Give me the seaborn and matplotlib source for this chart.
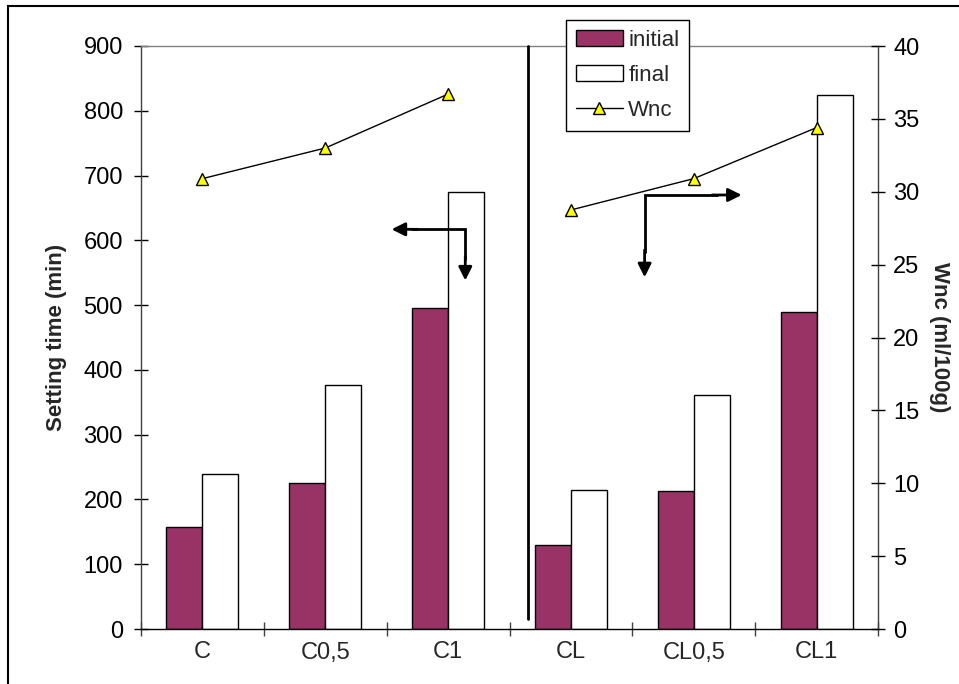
import matplotlib
matplotlib.use("Agg")
import matplotlib.pyplot as plt
from matplotlib.patches import Rectangle, Patch
from matplotlib.lines import Line2D
import numpy as np
import pandas as pd
import seaborn as sns

# Mix labels and measurements
mixes = ["C", "C0,5", "C1", "CL", "CL0,5", "CL1"]
initial_set = [157, 226, 495, 130, 213, 490]   # min
final_set = [240, 376, 674, 215, 362, 825]      # min
wnc = [30.9, 33.0, 36.7, 28.75, 30.9, 34.4]     # ml/100g
series_group = ["C", "C", "C", "CL", "CL", "CL"]

sns.set_theme(style="white")
plt.rcParams["font.family"] = ["Liberation Sans", "DejaVu Sans"]

bars = pd.DataFrame({
    "mix": mixes * 2,
    "time": initial_set + final_set,
    "kind": ["initial"] * len(mixes) + ["final"] * len(mixes),
})
line = pd.DataFrame({"pos": np.arange(len(mixes)), "wnc": wnc, "group": series_group})

fig = plt.figure(figsize=(9.59, 6.84), dpi=100)
ax = fig.add_axes([141 / 959, 1 - 629 / 684, (878 - 141) / 959, (629 - 46) / 684])

plum = "#993366"
sns.barplot(data=bars, x="mix", y="time", hue="kind", order=mixes,
            hue_order=["initial", "final"],
            palette={"initial": plum, "final": "white"},
            width=0.585, edgecolor="black", linewidth=1.0, saturation=1,
            legend=False, ax=ax)

ax.set_xlim(-0.5, len(mixes) - 0.5)
ax.set_ylim(0, 900)
ax.set_yticks(np.arange(0, 901, 100))
ax.set_xlabel("")
ax.set_ylabel("Setting time (min)", fontsize=16, fontweight="bold", labelpad=12)
ax.tick_params(axis="y", direction="inout", length=10, width=1, colors="black",
               labelsize=17, pad=8, left=True)
ax.set_xticks(np.arange(len(mixes)))
ax.set_xticklabels(mixes)
ax.tick_params(axis="x", which="major", length=0, labelsize=17, pad=9)
ax.set_xticks(np.arange(-0.5, len(mixes)), minor=True)
ax.tick_params(axis="x", which="minor", direction="inout", length=10, width=1,
               color="#404040", bottom=True)

for side in ["left", "right"]:
    ax.spines[side].set_color("#404040")
ax.spines["top"].set_color("#808080")
ax.spines["bottom"].set_color("black")
for s in ax.spines.values():
    s.set_linewidth(1.0)

# Wnc on the secondary axis
ax2 = ax.twinx()
sns.lineplot(data=line, x="pos", y="wnc", units="group", estimator=None,
             color="black", linewidth=1.0, marker="^", markersize=9,
             markerfacecolor="#FFFF00", markeredgecolor="black",
             markeredgewidth=1.0, ax=ax2, legend=False)
ax2.set_ylim(0, 40)
ax2.set_yticks(np.arange(0, 41, 5))
ax2.set_xlim(-0.5, len(mixes) - 0.5)
ax2.set_ylabel("Wnc (ml/100g)", fontsize=16, fontweight="bold", rotation=-90,
               labelpad=22)
ax2.tick_params(axis="y", direction="inout", length=10, width=1, colors="black",
                labelsize=17, pad=6, right=True)
for s in ax2.spines.values():
    s.set_visible(False)

# Separator between the two mix series
ax.plot([2.65, 2.65], [15, 900], color="black", linewidth=2, clip_on=False, zorder=5)

# Arrows pointing to the axis each series belongs to
arrow_kw = dict(arrowstyle="-|>", color="black", lw=2, mutation_scale=20,
                shrinkA=0, shrinkB=0)
path_kw = dict(color="black", lw=2, solid_joinstyle="miter", solid_capstyle="butt")

ax.plot([1.7, 2.14, 2.14], [617, 617, 570], **path_kw)
ax.annotate("", xy=(1.54, 617), xytext=(1.75, 617), arrowprops=arrow_kw)
ax.annotate("", xy=(2.14, 538), xytext=(2.14, 575), arrowprops=arrow_kw)

ax.plot([3.6, 3.6, 4.2], [580, 670, 670], **path_kw)
ax.annotate("", xy=(4.39, 670), xytext=(4.15, 670), arrowprops=arrow_kw)
ax.annotate("", xy=(3.6, 543), xytext=(3.6, 585), arrowprops=arrow_kw)

# Legend
handles = [
    Patch(facecolor=plum, edgecolor="black", linewidth=1.0, label="initial"),
    Patch(facecolor="white", edgecolor="black", linewidth=1.0, label="final"),
    Line2D([0], [0], color="black", lw=1.0, marker="^", markersize=9,
           markerfacecolor="#FFFF00", markeredgecolor="black", label="Wnc"),
]
leg = fig.legend(handles=handles, loc="upper left",
                 bbox_to_anchor=(566 / 959, 1 - 20 / 684),
                 fontsize=16, frameon=True, fancybox=False, framealpha=1,
                 edgecolor="black", borderpad=0.45, labelspacing=0.62,
                 handlelength=2.1, handleheight=0.75, handletextpad=0.25,
                 borderaxespad=0)
leg.get_frame().set_linewidth(1.0)

# Chart border
fig.patches.append(Rectangle((8 / 959, -0.1), 1.2, 1.1 - 6 / 684, fill=False,
                             edgecolor="black", linewidth=1.5,
                             transform=fig.transFigure))

fig.savefig("out.png", dpi=100)
